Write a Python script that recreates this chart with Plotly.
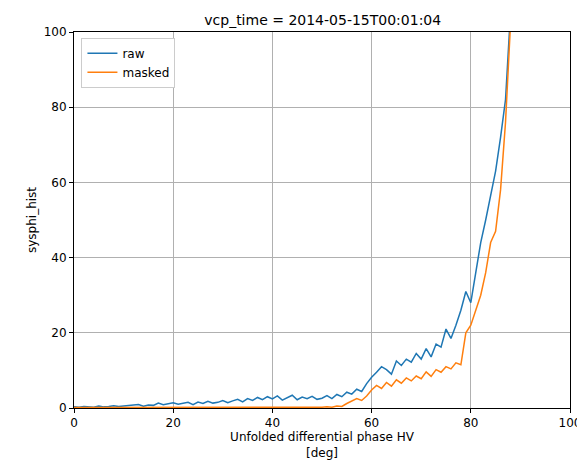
import plotly.graph_objects as go

phase = list(range(0, 90))
raw = [0.3, 0.2, 0.4, 0.3, 0.2, 0.5, 0.3, 0.4, 0.6, 0.4,
       0.5, 0.7, 0.6, 0.9, 0.5, 0.8, 0.7, 1.3, 0.9, 1.1,
       1.4, 1.0, 1.2, 1.5, 0.9, 1.6, 1.2, 1.8, 1.3, 1.5,
       2.0, 1.4, 1.9, 2.3, 1.6, 2.5, 2.0, 2.8, 2.2, 3.0,
       2.4, 3.2, 2.1, 2.7, 3.4, 2.2, 2.9, 2.5, 3.1, 2.3,
       2.6, 3.3, 2.5, 3.6, 3.0, 4.2, 3.7, 5.0, 4.4, 6.5,
       8.2, 9.5, 11.0, 10.2, 9.0, 12.5, 11.3, 13.0, 12.2, 14.5,
       13.0, 15.8, 13.6, 17.0, 16.2, 21.0, 18.5, 22.0, 26.0, 31.0,
       28.0, 36.0, 44.0, 50.0, 57.0, 63.0, 72.0, 82.0, 105.0, 115.0]
masked = [0.1, 0.1, 0.1, 0.0, 0.1, 0.0, 0.1, 0.0, 0.0, 0.1,
          0.0, 0.1, 0.0, 0.0, 0.1, 0.0, 0.0, 0.1, 0.0, 0.0,
          0.0, 0.1, 0.0, 0.0, 0.0, 0.1, 0.0, 0.0, 0.1, 0.0,
          0.0, 0.0, 0.1, 0.0, 0.0, 0.0, 0.1, 0.0, 0.0, 0.0,
          0.1, 0.0, 0.0, 0.1, 0.0, 0.0, 0.1, 0.0, 0.0, 0.1,
          0.2, 0.3, 0.2, 0.5, 0.4, 1.2, 1.8, 2.5, 2.0, 3.2,
          4.8, 6.0, 5.2, 6.8, 5.8, 7.5, 6.6, 8.0, 7.2, 8.5,
          7.8, 9.6, 8.4, 10.2, 9.5, 11.0, 10.4, 12.0, 11.5, 20.0,
          22.0, 26.0, 30.0, 36.0, 44.0, 47.0, 58.0, 76.0, 102.0, 115.0]

fig = go.Figure()
fig.add_trace(go.Scatter(x=phase, y=raw, name="raw", mode="lines",
                         line=dict(color="#1f77b4", width=1.5)))
fig.add_trace(go.Scatter(x=phase, y=masked, name="masked", mode="lines",
                         line=dict(color="#ff7f0e", width=1.5)))

axis_style = dict(showgrid=True, gridcolor="#b0b0b0", gridwidth=0.8,
                  showline=True, linecolor="black", mirror=True,
                  ticks="outside", ticklen=4, tickcolor="black",
                  zeroline=False, dtick=20, automargin=False,
                  tickfont=dict(size=12), title_font=dict(size=12))

fig.update_layout(
    width=585, height=469,
    margin=dict(l=66, r=23, t=24, b=69),
    paper_bgcolor="white", plot_bgcolor="white",
    font=dict(family="DejaVu Sans", size=12, color="black"),
    title=dict(text="vcp_time = 2014-05-15T00:01:04", x=0.538, xanchor="center",
               yref="container", y=1 - 12 / 469, yanchor="middle",
               font=dict(size=14)),
    legend=dict(x=0.015, y=0.985, xanchor="left", yanchor="top",
                bordercolor="#cccccc", borderwidth=1, bgcolor="white",
                font=dict(size=12)),
    showlegend=True,
)
fig.update_xaxes(range=[0, 100], title_text="Unfolded differential phase HV<br>[deg]",
                 title_standoff=2, **axis_style)
fig.update_yaxes(range=[0, 100], title_text="sysphi_hist", title_standoff=4, **axis_style)

fig.write_html("out.html")
